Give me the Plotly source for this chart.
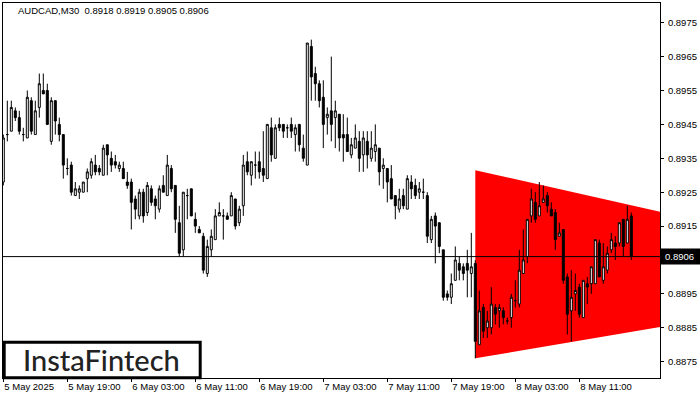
import plotly.graph_objects as go

# ---------------- data ----------------
symbol = "AUDCAD,M30"

opens = [0.8928, 0.8942, 0.8943, 0.8949, 0.8947, 0.8942, 0.8941, 0.8952, 0.8942, 0.8950,
         0.8955, 0.8955, 0.8940, 0.8952, 0.8945, 0.8942, 0.8932, 0.8933, 0.8924, 0.8925,
         0.8925, 0.8929, 0.8930, 0.8933, 0.8932, 0.8930, 0.8939, 0.8935, 0.8934, 0.8932,
         0.8932, 0.8928, 0.8928, 0.8923, 0.8918, 0.8925, 0.8919, 0.8926, 0.8923, 0.8920,
         0.8927, 0.8924, 0.8932, 0.8927, 0.8916, 0.8908, 0.8924, 0.8926, 0.8917, 0.8914,
         0.8912, 0.8901, 0.8908, 0.8911, 0.8918, 0.8918, 0.8918, 0.8918, 0.8923, 0.8916,
         0.8921, 0.8934, 0.8930, 0.8933, 0.8934, 0.8932, 0.8929, 0.8944, 0.8935, 0.8945,
         0.8945, 0.8944, 0.8945, 0.8942, 0.8945, 0.8938, 0.8933, 0.8968, 0.8960, 0.8957,
         0.8953, 0.8947, 0.8949, 0.8947, 0.8948, 0.8942, 0.8942, 0.8936, 0.8938, 0.8940,
         0.8936, 0.8940, 0.8935, 0.8937, 0.8938, 0.8932, 0.8932, 0.8929, 0.8924, 0.8920,
         0.8924, 0.8920, 0.8928, 0.8927, 0.8925, 0.8925, 0.8924, 0.8911, 0.8918, 0.8916,
         0.8908, 0.8895, 0.8894, 0.8899, 0.8904, 0.8903, 0.8904, 0.8901, 0.8904, 0.8880,
         0.8891, 0.8885, 0.8885, 0.8891, 0.8890, 0.8890, 0.8887, 0.8888, 0.8893, 0.8892,
         0.8901, 0.8906, 0.8918, 0.8922, 0.8918, 0.8922, 0.8924, 0.8920, 0.8919, 0.8912,
         0.8914, 0.8900, 0.8890, 0.8895, 0.8897, 0.8888, 0.8898, 0.8898, 0.8898, 0.8910,
         0.8899, 0.8902, 0.8908, 0.8910, 0.8910, 0.8917, 0.8910, 0.8918]

highs = [0.8942, 0.8952, 0.8952, 0.8950, 0.8949, 0.8944, 0.8955, 0.8953, 0.8952, 0.8960,
         0.8960, 0.8957, 0.8953, 0.8952, 0.8947, 0.8942, 0.8935, 0.8934, 0.8928, 0.8927,
         0.8928, 0.8932, 0.8935, 0.8936, 0.8933, 0.8939, 0.8939, 0.8937, 0.8936, 0.8934,
         0.8934, 0.8931, 0.8929, 0.8924, 0.8926, 0.8926, 0.8928, 0.8927, 0.8924, 0.8927,
         0.8930, 0.8936, 0.8933, 0.8927, 0.8921, 0.8925, 0.8926, 0.8926, 0.8919, 0.8915,
         0.8913, 0.8911, 0.8914, 0.8920, 0.8922, 0.8920, 0.8919, 0.8925, 0.8923, 0.8921,
         0.8936, 0.8937, 0.8934, 0.8937, 0.8937, 0.8943, 0.8945, 0.8947, 0.8945, 0.8947,
         0.8945, 0.8945, 0.8947, 0.8945, 0.8945, 0.8942, 0.8969, 0.8970, 0.8962, 0.8958,
         0.8958, 0.8950, 0.8965, 0.8952, 0.8948, 0.8948, 0.8947, 0.8941, 0.8945, 0.8943,
         0.8943, 0.8943, 0.8943, 0.8945, 0.8938, 0.8935, 0.8932, 0.8933, 0.8924, 0.8926,
         0.8926, 0.8930, 0.8930, 0.8929, 0.8928, 0.8929, 0.8925, 0.8918, 0.8919, 0.8916,
         0.8908, 0.8896, 0.8901, 0.8909, 0.8906, 0.8904, 0.8908, 0.8913, 0.8905, 0.8896,
         0.8892, 0.8890, 0.8897, 0.8892, 0.8892, 0.8891, 0.8888, 0.8895, 0.8899, 0.8908,
         0.8914, 0.8917, 0.8926, 0.8925, 0.8928, 0.8927, 0.8925, 0.8922, 0.8920, 0.8916,
         0.8914, 0.8901, 0.8902, 0.8901, 0.8898, 0.8899, 0.8900, 0.8903, 0.8911, 0.8911,
         0.8910, 0.8909, 0.8913, 0.8912, 0.8916, 0.8917, 0.8921, 0.8919]

lows = [0.8927, 0.8940, 0.8943, 0.8946, 0.8942, 0.8940, 0.8941, 0.8942, 0.8942, 0.8947,
        0.8954, 0.8945, 0.8939, 0.8942, 0.8940, 0.8929, 0.8930, 0.8924, 0.8924, 0.8923,
        0.8925, 0.8925, 0.8929, 0.8930, 0.8930, 0.8930, 0.8930, 0.8931, 0.8932, 0.8931,
        0.8929, 0.8926, 0.8914, 0.8917, 0.8917, 0.8916, 0.8918, 0.8921, 0.8917, 0.8919,
        0.8925, 0.8924, 0.8925, 0.8913, 0.8906, 0.8906, 0.8917, 0.8918, 0.8913, 0.8913,
        0.8901, 0.8900, 0.8906, 0.8911, 0.8918, 0.8911, 0.8917, 0.8918, 0.8914, 0.8915,
        0.8918, 0.8930, 0.8927, 0.8929, 0.8929, 0.8928, 0.8929, 0.8934, 0.8935, 0.8943,
        0.8941, 0.8941, 0.8941, 0.8937, 0.8937, 0.8934, 0.8933, 0.8952, 0.8952, 0.8950,
        0.8938, 0.8942, 0.8940, 0.8938, 0.8937, 0.8934, 0.8937, 0.8935, 0.8938, 0.8931,
        0.8931, 0.8932, 0.8934, 0.8934, 0.8927, 0.8926, 0.8922, 0.8923, 0.8917, 0.8919,
        0.8920, 0.8920, 0.8923, 0.8923, 0.8923, 0.8923, 0.8910, 0.8910, 0.8904, 0.8907,
        0.8893, 0.8893, 0.8892, 0.8899, 0.8899, 0.8899, 0.8894, 0.8894, 0.8876, 0.8880,
        0.8882, 0.8882, 0.8883, 0.8886, 0.8885, 0.8886, 0.8886, 0.8885, 0.8891, 0.8891,
        0.8901, 0.8904, 0.8916, 0.8916, 0.8918, 0.8922, 0.8919, 0.8918, 0.8908, 0.8912,
        0.8898, 0.8883, 0.8881, 0.8890, 0.8888, 0.8888, 0.8892, 0.8895, 0.8898, 0.8900,
        0.8898, 0.8901, 0.8907, 0.8905, 0.8909, 0.8906, 0.8910, 0.8905]

closes = [0.8941, 0.8942, 0.8950, 0.8947, 0.8943, 0.8942, 0.8953, 0.8943, 0.8949, 0.8957,
          0.8954, 0.8945, 0.8952, 0.8946, 0.8942, 0.8933, 0.8932, 0.8925, 0.8926, 0.8926,
          0.8928, 0.8931, 0.8934, 0.8931, 0.8931, 0.8938, 0.8936, 0.8933, 0.8933, 0.8933,
          0.8929, 0.8927, 0.8922, 0.8920, 0.8925, 0.8918, 0.8927, 0.8922, 0.8921, 0.8926,
          0.8925, 0.8933, 0.8926, 0.8917, 0.8907, 0.8925, 0.8924, 0.8918, 0.8915, 0.8913,
          0.8902, 0.8909, 0.8912, 0.8918, 0.8919, 0.8918, 0.8917, 0.8924, 0.8915, 0.8920,
          0.8933, 0.8931, 0.8934, 0.8933, 0.8931, 0.8930, 0.8945, 0.8936, 0.8944, 0.8944,
          0.8943, 0.8944, 0.8943, 0.8944, 0.8939, 0.8935, 0.8969, 0.8959, 0.8957, 0.8952,
          0.8945, 0.8948, 0.8945, 0.8949, 0.8941, 0.8941, 0.8937, 0.8939, 0.8941, 0.8935,
          0.8941, 0.8936, 0.8938, 0.8939, 0.8931, 0.8933, 0.8928, 0.8923, 0.8921, 0.8923,
          0.8921, 0.8929, 0.8926, 0.8924, 0.8926, 0.8925, 0.8912, 0.8917, 0.8915, 0.8909,
          0.8894, 0.8894, 0.8898, 0.8905, 0.8902, 0.8901, 0.8902, 0.8903, 0.8881, 0.8890,
          0.8884, 0.8887, 0.8892, 0.8889, 0.8891, 0.8888, 0.8887, 0.8894, 0.8893, 0.8902,
          0.8905, 0.8917, 0.8923, 0.8917, 0.8921, 0.8923, 0.8921, 0.8918, 0.8911, 0.8913,
          0.8899, 0.8889, 0.8894, 0.8896, 0.8889, 0.8899, 0.8897, 0.8903, 0.8911, 0.8900,
          0.8903, 0.8907, 0.8911, 0.8909, 0.8916, 0.8909, 0.8917, 0.8906]

bar_index = list(range(len(closes)))

tick_index = [0, 16, 32, 48, 64, 80, 96, 112, 128, 144]
tick_labels = ["5 May 2025", "5 May 19:00", "6 May 03:00", "6 May 11:00", "6 May 19:00",
               "7 May 03:00", "7 May 11:00", "7 May 19:00", "8 May 03:00", "8 May 11:00"]

price_ticks = [0.8875, 0.8885, 0.8895, 0.8905, 0.8915, 0.8925,
               0.8935, 0.8945, 0.8955, 0.8965, 0.8975]

# symmetrical triangle pattern (left anchor bar, right edge of view)
pattern_x = [118, 164.4]
pattern_upper = [0.89315, 0.89192]
pattern_lower = [0.88760, 0.88853]

brand = "InstaFintech"

# ---------------- figure ----------------
W, H = 700, 400
ML, MR, MT, MB = 3, 40, 3, 22
PW, PH = W - ML - MR, H - MT - MB
x_range = [-0.075, 164.175]
y_range = [0.887019, 0.898081]
px_per_price = PH / (y_range[1] - y_range[0])

FONT = "Liberation Sans, Arial, sans-serif"

fig = go.Figure()

fig.add_trace(go.Candlestick(
    x=bar_index, open=opens, high=highs, low=lows, close=closes,
    increasing=dict(line=dict(color="black", width=1), fillcolor="white"),
    decreasing=dict(line=dict(color="black", width=1), fillcolor="black"),
    whiskerwidth=0, showlegend=False, hoverinfo="skip"))

last_o, last_h, last_l, last_c = opens[-1], highs[-1], lows[-1], closes[-1]

# the tick hidden behind the last-price label box is not drawn
visible_ticks = [t for t in price_ticks if abs(t - last_c) > 0.0003]

tri_path = (f"M {pattern_x[0]},{pattern_upper[0]} L {pattern_x[1]},{pattern_upper[1]} "
            f"L {pattern_x[1]},{pattern_lower[1]} L {pattern_x[0]},{pattern_lower[0]} Z")

shapes = [
    dict(type="path", xref="x", yref="y", path=tri_path,
         fillcolor="#ff0000", line=dict(width=0), layer="below"),
    dict(type="line", xref="paper", x0=0, x1=1, yref="y", y0=last_c, y1=last_c,
         line=dict(color="black", width=1), layer="above"),
    dict(type="rect", xref="paper", x0=1 + 1.0 / PW, x1=1 + 40.0 / PW,
         yref="y", y0=last_c - 8 / px_per_price, y1=last_c + 8 / px_per_price,
         fillcolor="black", line=dict(width=0), layer="above"),
    dict(type="rect", xref="paper", yref="paper",
         x0=(4.2 - ML) / PW, x1=(200.2 - ML) / PW,
         y0=(H - MB - 377.8) / PH, y1=(H - MB - 342.2) / PH,
         fillcolor="white", line=dict(color="black", width=3), layer="above"),
]

annotations = [
    dict(text=f"{symbol}  {last_o:.4f} {last_h:.4f} {last_l:.4f} {last_c:.4f}",
         xref="paper", yref="paper", x=(16 - ML) / PW, y=(H - MB - 11) / PH,
         xanchor="left", yanchor="middle", showarrow=False,
         font=dict(family=FONT, size=9.5, color="black")),
    dict(text=f"{last_c:.4f}", xref="paper", yref="y", x=1 + 2.5 / PW, y=last_c,
         xanchor="left", yanchor="middle", showarrow=False,
         font=dict(family=FONT, size=9.5, color="white")),
    dict(text=brand, xref="paper", yref="paper",
         x=(101.5 - ML) / PW, y=(H - MB - 359.5) / PH,
         xanchor="center", yanchor="middle", showarrow=False,
         font=dict(family="Lato, sans-serif", size=29, color="#222222", weight=500)),
]

fig.update_layout(
    width=W, height=H, autosize=False,
    margin=dict(l=ML, r=MR, t=MT, b=MB, pad=0),
    paper_bgcolor="white", plot_bgcolor="white",
    boxgap=0.5, boxgroupgap=0,
    shapes=shapes, annotations=annotations,
    showlegend=False,
    xaxis=dict(range=x_range, type="linear", tickmode="array",
               tickvals=tick_index, ticktext=tick_labels,
               ticks="outside", ticklen=3, tickcolor="black", tickwidth=1,
               ticklabelposition="outside right",
               showgrid=False, zeroline=False, showline=True, linecolor="black",
               linewidth=1, mirror=True, rangeslider=dict(visible=False),
               tickfont=dict(family=FONT, size=9.5, color="black")),
    yaxis=dict(range=y_range, side="right", tickmode="array",
               tickvals=visible_ticks, tickformat=".4f",
               ticks="outside", ticklen=3, tickcolor="black", tickwidth=1,
               ticklabelstandoff=2,
               showgrid=False, zeroline=False, showline=True, linecolor="black",
               linewidth=1, mirror=True,
               tickfont=dict(family=FONT, size=9.5, color="black")),
)

fig.write_html("out.html",
               config={"displayModeBar": False},
               post_script="document.body.style.margin='0px';document.body.style.padding='0px';")
